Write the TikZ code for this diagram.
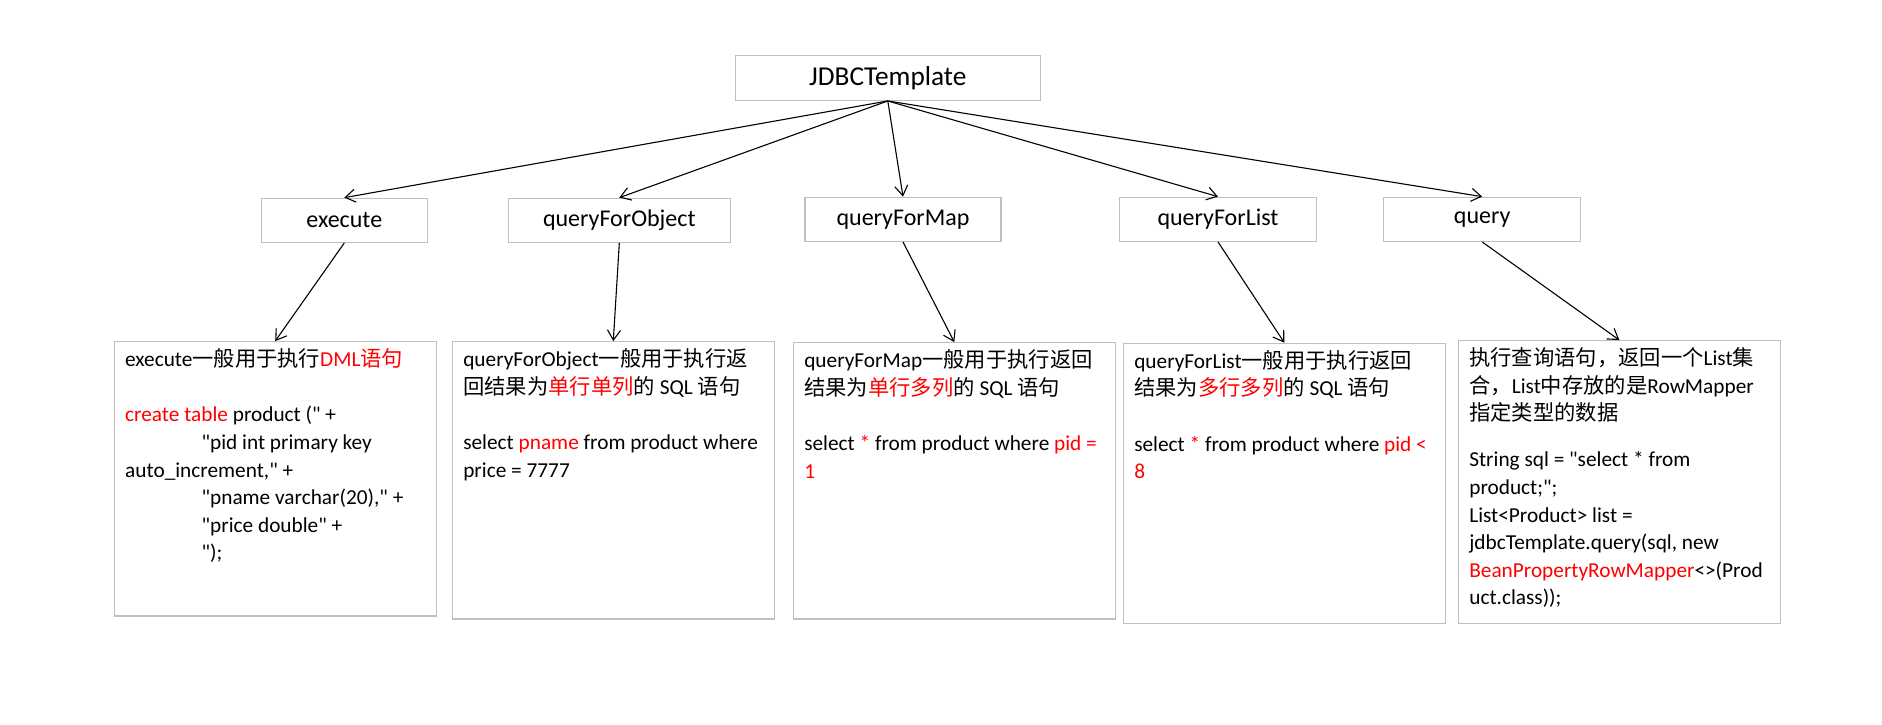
\documentclass[tikz,border=0pt]{standalone}
\usepackage{fontspec}
\usetikzlibrary{arrows.meta}
\newfontfamily\lat{Carlito}
\newfontfamily\cjk{Noto Sans CJK SC}
\definecolor{boxgray}{HTML}{BFBFBF}
\definecolor{hred}{HTML}{FF0000}
\newcommand\zh[1]{{\cjk #1}}
\newcommand\rd[1]{\textcolor{hred}{#1}}
\newcommand\bodytext[3]{\begin{minipage}[t][#2pt][t]{#1pt}\raggedright\fontsize{21.3}{27.6}\selectfont\lat\rule{0pt}{25pt}#3\end{minipage}}
\tikzset{
  box/.style={draw=boxgray, line width=1.3pt, inner sep=0pt},
  topbox/.style={box, font=\lat\fontsize{27.3}{32}\selectfont},
  midbox/.style={box, font=\lat\fontsize{24}{28}\selectfont, minimum height=44pt},
  infobox/.style={box, inner xsep=11pt, inner ysep=0pt},
  arr/.style={draw=black, line width=1.1pt, -{Straight Barb[length=10pt,width=13pt]}}
}
\begin{document}
\begin{tikzpicture}[x=1pt,y=1pt]
\useasboundingbox (0,0) rectangle (1882,-724);
\node[topbox, minimum width=305pt, minimum height=45pt] (jdbc) at (887.8,-77.8) {JDBCTemplate};

\node[midbox, minimum width=166pt] (exe) at (344.3,-220.3) {execute};
\node[midbox, minimum width=222pt] (qfo) at (619.3,-220.3) {queryForObject};
\node[midbox, minimum width=196pt] (qfm) at (903,-219.3) {queryForMap};
\node[midbox, minimum width=197pt] (qfl) at (1218,-219.3) {queryForList};
\node[midbox, minimum width=197pt] (qry) at (1482.2,-219.3) {query};

\node[infobox] (b1) at (275.2,-478.9) {\bodytext{300}{274.3}{%
execute\zh{一般用于执行}\rd{DML\zh{语句}}\\[27.6pt]
\rd{create table} product (" +\\
\hspace*{76.4pt}"pid int primary key\\
auto\_increment," +\\
\hspace*{76.4pt}"pname varchar(20)," +\\
\hspace*{76.4pt}"price double" +\\
\hspace*{76.4pt}");}};

\node[infobox] (b2) at (613.3,-480.4) {\bodytext{300}{277.3}{%
queryForObject\zh{一般用于执行返}\\
\zh{回结果为}\rd{\zh{单行单列}}\zh{的} SQL \zh{语句}\\[27.6pt]
select \rd{pname} from product where\\
price = 7777}};

\node[infobox] (b3) at (954.3,-480.9) {\bodytext{300}{276.3}{%
queryForMap\zh{一般用于执行返回}\\
\zh{结果为}\rd{\zh{单行多列}}\zh{的} SQL \zh{语句}\\[27.6pt]
select \rd{*} from product where \rd{pid =}\\
\rd{1}}};

\node[infobox] (b4) at (1284.3,-483.3) {\bodytext{300}{280}{%
queryForList\zh{一般用于执行返回}\\
\zh{结果为}\rd{\zh{多行多列}}\zh{的} SQL \zh{语句}\\[27.6pt]
select \rd{*} from product where \rd{pid <}\\
\rd{8}}};

\node[infobox] (b5) at (1619.3,-482) {\bodytext{300}{282.6}{%
\zh{执行查询语句，返回一个}List\zh{集}\\
\zh{合，}List\zh{中存放的是}RowMapper\\
\zh{指定类型的数据}\\[18.4pt]
String sql = "select * from\\
product;";\\
List<Product> list =\\
jdbcTemplate.query(sql, new\\
\rd{BeanPropertyRowMapper}<>(Prod\\
uct.class));}};

\draw[arr] (jdbc.south) -- (exe.north);
\draw[arr] (jdbc.south) -- (qfo.north);
\draw[arr] (jdbc.south) -- (qfm.north);
\draw[arr] (jdbc.south) -- (qfl.north);
\draw[arr] (jdbc.south) -- (qry.north);

\draw[arr] (exe.south) -- (b1.north);
\draw[arr] (qfo.south) -- (b2.north);
\draw[arr] (qfm.south) -- (b3.north);
\draw[arr] (qfl.south) -- (b4.north);
\draw[arr] (qry.south) -- (b5.north);
\end{tikzpicture}
\end{document}
